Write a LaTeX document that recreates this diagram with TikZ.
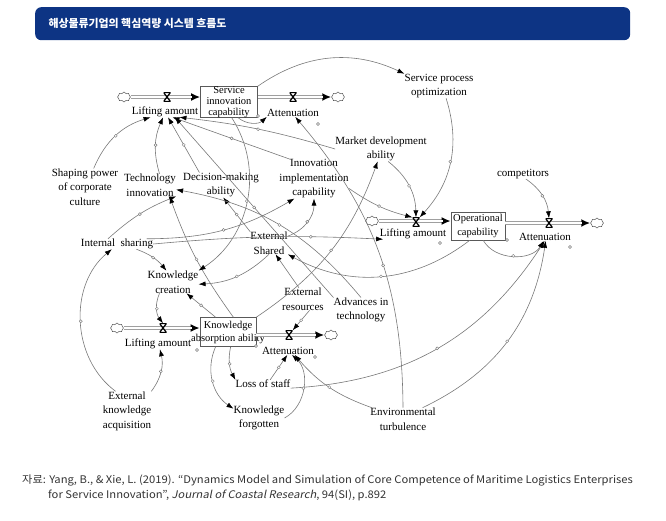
\documentclass[tikz,border=0pt]{standalone}
\usepackage{fontspec}
\setmainfont{Liberation Serif}
\newfontfamily\krfont{Noto Sans CJK KR}
\newfontfamily\capfont[FakeStretch=1.07,ItalicFont={Noto Sans CJK KR},
  ItalicFeatures={FakeSlant=0.2,FakeStretch=1.07}]{Noto Sans CJK KR}
\usetikzlibrary{arrows.meta,shapes.symbols}
\definecolor{titleblue}{HTML}{0D3484}
\definecolor{linkgray}{HTML}{787878}
\definecolor{captext}{HTML}{333333}

\begin{document}
\begin{tikzpicture}
  [x=1pt, y=-1pt,
   var/.style={align=center, inner sep=0pt, font=\fontsize{11}{14.5}\selectfont},
   boxtext/.style={align=center, inner sep=0pt, font=\fontsize{10.5}{12}\selectfont},
   stock/.style={draw=black!65, line width=.6pt, inner sep=0pt},
   srcsink/.style={cloud, cloud puffs=8, aspect=1.3, draw=black!65, line width=.5pt,
     minimum width=13pt, minimum height=10pt, inner sep=0pt},
   valve/.style={minimum width=7pt, minimum height=9pt, inner sep=0pt,
     path picture={\draw[line width=1.2pt]
       (path picture bounding box.north west) -- (path picture bounding box.south east)
       (path picture bounding box.north east) -- (path picture bounding box.south west)
       (path picture bounding box.north west) -- (path picture bounding box.north east)
       (path picture bounding box.south west) -- (path picture bounding box.south east);}},
   pipe/.style={line width=3.2pt, draw=gray!75, -{Latex[length=9pt,width=8pt,color=black]},
     postaction={draw, line width=1.3pt, white, -, shorten >=8pt}},
   link/.style={draw=linkgray, line width=.6pt, -{Latex[length=7pt,width=5pt,color=black]}},
   hdl/.style={circle, draw=linkgray, line width=.4pt, fill=white, inner sep=0pt, minimum size=3pt}]

  \useasboundingbox (0,0) rectangle (666,520);

  % title bar
  \node[fill=titleblue, rounded corners=6pt, minimum width=595pt, minimum height=33pt,
    anchor=north west] (titlebar) at (35,7) {};
  \node[anchor=west, text=white, font=\krfont\bfseries\fontsize{10.9}{12}\selectfont]
    (title) at (45,23) {해상물류기업의 핵심역량 시스템 흐름도};

  % stocks
  \node[stock, minimum width=57pt, minimum height=31pt] (sic) at (229,102) {};
  \node[boxtext, font=\fontsize{10.5}{11}\selectfont] (sictxt) at (sic) {Service\\innovation\\capability};
  \node[stock, minimum width=54pt, minimum height=28pt] (opc) at (478,226) {};
  \node[boxtext, font=\fontsize{10.5}{14}\selectfont] (opctxt) at (opc) {Operational\\capability};
  \node[stock, minimum width=56pt, minimum height=29pt] (kaa) at (228,332) {};
  \node[boxtext, font=\fontsize{10.5}{13}\selectfont] (kaatxt) at (kaa) {Knowledge\\absorption ability};

  % sources and sinks
  \node[srcsink] (src1) at (124,97) {};
  \node[srcsink] (snk1) at (338,97) {};
  \node[srcsink] (src2) at (372,221) {};
  \node[srcsink] (snk2) at (597,223) {};
  \node[srcsink] (src3) at (117,328) {};
  \node[srcsink] (snk3) at (331,335) {};

  % pipes
  \draw[pipe] (src1.east) -- (src1.east -| sic.west);
  \draw[pipe] (sic.east |- snk1) -- (snk1.west);
  \draw[pipe] (src2.east) -- (src2.east -| opc.west);
  \draw[pipe] (opc.east |- snk2) -- (snk2.west);
  \draw[pipe] (src3.east) -- (src3.east -| kaa.west);
  \draw[pipe] (kaa.east |- snk3) -- (snk3.west);

  % valves
  \node[valve] (v1) at (167,97) {};
  \node[valve] (v2) at (293,97) {};
  \node[valve] (v3) at (416,222) {};
  \node[valve] (v4) at (549,223) {};
  \node[valve] (v5) at (163,328) {};
  \node[valve] (v6) at (289,335) {};

  % flow labels
  \node[var] (lift1) at (165,112) {Lifting amount};
  \node[var] (att1) at (293,113) {Attenuation};
  \node[var] (lift2) at (413,234) {Lifting amount};
  \node[var] (att2) at (545,237) {Attenuation};
  \node[var] (lift3) at (158,344) {Lifting amount};
  \node[var] (att3) at (288,351) {Attenuation};

  % auxiliaries
  \node[var] (culture) at (85,187) {Shaping power\\of corporate\\culture};
  \node[var] (techinno) at (150,185) {Technology\\innovation};
  \node[var] (decision) at (221,185) {Decision-making\\ability};
  \node[var] (innoimpl) at (314,179) {Innovation\\implementation\\capability};
  \node[var] (market) at (381,149) {Market development\\ability};
  \node[var] (spo) at (439,86) {Service process\\optimization};
  \node[var] (competitors) at (523,174) {competitors};
  \node[var] (intshare) at (117,244) {Internal~ sharing};
  \node[var] (kcreate) at (173,282) {Knowledge\\creation};
  \node[var] (extshared) at (269,243) {External\\Shared};
  \node[var] (extres) at (303,299) {External\\resources};
  \node[var] (advances) at (361,310) {Advances in\\technology};
  \node[var] (loss) at (263,384) {Loss of staff};
  \node[var] (kforgot) at (259,418) {Knowledge\\forgotten};
  \node[var] (eka) at (127,411) {External\\knowledge\\acquisition};
  \node[var] (envturb) at (403,419) {Environmental\\turbulence};

  % links into the upper flows
  \draw[link] (culture.65) to[bend left=25] node[hdl]{} (lift1.-160);
  \draw[link] (techinno.50) to[bend left=20] node[hdl]{} (lift1.-110);
  \draw[link] (decision.150) -- node[hdl]{} (lift1.-60);
  \draw[link] (innoimpl.140) -- node[hdl]{} (lift1.-35);
  \draw[link] (market.west) to[bend right=5] node[hdl]{} (lift1.-20);
  \draw[link] (advances.north west) -- node[hdl]{} (lift1.-28);
  \draw[link] (sic.-60) to[bend right=40] (att1.south west);
  \draw[link] (envturb.north) to[bend right=20] node[hdl, pos=.45]{} (att1.-60);
  \draw[link] (sic.north east) to[bend left=30] (spo.north west);
  \draw[link] (spo.-60) to[bend left=30] node[hdl]{} (v3.north east);
  \draw[link] (market.-60) to[bend left=25] node[hdl]{} (v3.north);
  \draw[link] (innoimpl.-15) to[bend right=10] node[hdl]{} (v3.north west);
  \draw[link] (intshare.east) to[bend left=4] node[hdl, pos=.7]{} (lift2.190);
  \draw[link] (competitors.-60) to[bend left=25] node[hdl]{} (v4.north);

  % links out of operational capability and into its attenuation
  \draw[link] (opc.-120) to[bend left=33] node[hdl]{} (extshared.south east);
  \draw[link] (opc.-70) to[bend right=60] node[hdl]{} (att2.-110);
  \draw[link] (envturb.30) to[bend right=28] node[hdl]{} (att2.-80);
  \draw[link] (loss.south east) to[bend right=27] node[hdl]{} (att2.-95);

  % middle part
  \draw[link] (extres.110) -- (extshared.-60);
  \draw[link] (extshared.north west) -- node[hdl]{} (decision.-80);
  \draw[link] (extshared.20) to[bend right=35] node[hdl]{} (innoimpl.-90);
  \draw[link] (intshare.10) to[bend right=15] node[hdl]{} (innoimpl.-135);
  \draw[link] (intshare.150) to[bend left=10] node[hdl]{} (techinno.south east);
  \draw[link] (kaa.70) to[bend left=8] node[hdl]{} (techinno.-30);
  \draw[link] (advances.north) to[bend right=20] node[hdl]{} (techinno.-10);
  \draw[link] (intshare.-15) to[bend left=15] node[hdl]{} (kcreate.120);
  \draw[link] (extshared.south) to[bend left=20] node[hdl]{} (kcreate.-5);
  \draw[link] (sic.-80) to[bend left=45] node[hdl]{} (kcreate.north east);
  \draw[link] (kaa.130) -- node[hdl]{} (kcreate.-40);
  \draw[link] (kaa.north east) to[bend right=18] node[hdl]{} (market.-105);

  % lower flow
  \draw[link] (kcreate.-140) to[bend right=30] node[hdl]{} (v5.north);
  \draw[link] (eka.120) to[bend left=52] node[hdl]{} (intshare.-135);
  \draw[link] (eka.north east) to[bend right=25] node[hdl]{} (lift3.-70);
  \draw[link] (kaa.-80) to[bend right=20] node[hdl]{} (loss.north west);
  \draw[link] (kaa.-130) to[bend right=40] node[hdl]{} (kforgot.160);
  \draw[link] (loss.30) -- node[hdl]{} (att3.-100);
  \draw[link] (kforgot.east) to[bend right=55] node[hdl]{} (att3.-45);
  \draw[link] (envturb.160) to[bend left=15] node[hdl]{} (att3.-30);
  \draw[link] (extres.-60) -- node[hdl]{} (v6.north east);

  % loose handles
  \foreach \hx/\hy [count=\i] in {318/124, 258/116, 440/243, 507/240, 570/247,
                                  197/350, 256/346, 315/357}
    \node[hdl] (dot\i) at (\hx,\hy) {};

  % source line
  \node[anchor=west, inner sep=0pt, text=captext, font=\capfont\fontsize{10.5}{12}\selectfont]
    (cap1) at (22,480) {자료: Yang, B., \& Xie, L. (2019). “Dynamics Model and Simulation of Core Competence of Maritime Logistics Enterprises};
  \node[anchor=west, inner sep=0pt, text=captext, font=\capfont\fontsize{10.5}{12}\selectfont]
    (cap2) at (48,495) {for Service Innovation”, \textit{Journal of Coastal Research}, 94(SI), p.892};
\end{tikzpicture}
\end{document}
